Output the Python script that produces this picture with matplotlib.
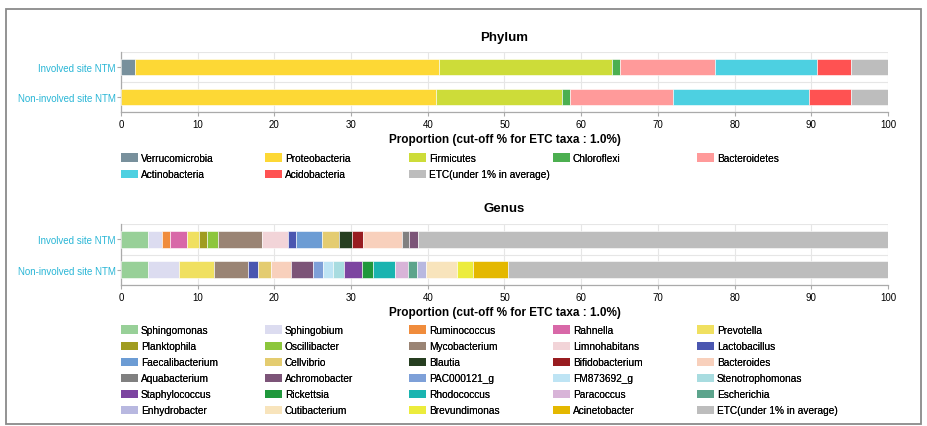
import numpy as np
import matplotlib
matplotlib.use("Agg")
import matplotlib.pyplot as plt
from matplotlib.patches import Patch, Rectangle

plt.rcParams['font.family'] = ['Liberation Sans', 'DejaVu Sans']

samples = ["Non-involved site NTM", "Involved site NTM"]

# Phylum level (% abundance), order = stacking order
phylum_names = ["Verrucomicrobia", "Proteobacteria", "Firmicutes", "Chloroflexi",
                "Bacteroidetes", "Actinobacteria", "Acidobacteria",
                "ETC(under 1% in average)"]
phylum_colors = ["#78909c", "#fdd835", "#cddc39", "#4caf50",
                 "#ff9a9a", "#4dd0e1", "#ff5252", "#bdbdbd"]
phylum_involved = [1.8, 39.7, 22.5, 1.1, 12.4, 13.3, 4.4, 4.8]
phylum_noninvolved = [0.0, 41.1, 16.4, 1.1, 13.4, 17.7, 5.5, 4.8]

# Genus level
genus_names = ["Sphingomonas", "Sphingobium", "Ruminococcus", "Rahnella", "Prevotella",
               "Planktophila", "Oscillibacter", "Mycobacterium", "Limnohabitans", "Lactobacillus",
               "Faecalibacterium", "Cellvibrio", "Blautia", "Bifidobacterium", "Bacteroides",
               "Aquabacterium", "Achromobacter", "PAC000121_g", "FM873692_g", "Stenotrophomonas",
               "Staphylococcus", "Rickettsia", "Rhodococcus", "Paracoccus", "Escherichia",
               "Enhydrobacter", "Cutibacterium", "Brevundimonas", "Acinetobacter",
               "ETC(under 1% in average)"]
genus_colors = ["#98d098", "#dcdcf0", "#f08c3c", "#d868a8", "#f0e060",
                "#a09c20", "#8cc63c", "#9a8474", "#f2d4d8", "#4a56b0",
                "#6c9cd4", "#e4cc70", "#263e20", "#981c20", "#f8d0bc",
                "#808080", "#7c5478", "#7ea0d8", "#bee4f4", "#a8dce0",
                "#7c44a0", "#20983c", "#1ab4b0", "#d8b4d8", "#5ca48c",
                "#b8b8e0", "#f8e4bc", "#ecec3c", "#e4b800", "#bdbdbd"]
genus_involved = [3.55, 1.85, 1.05, 2.2, 1.5,
                  1.0, 1.55, 5.65, 3.4, 1.1,
                  3.4, 2.2, 1.65, 1.4, 5.1,
                  0.9, 1.2, 0, 0, 0,
                  0, 0, 0, 0, 0,
                  0, 0, 0, 0, 61.3]
genus_noninvolved = [3.55, 4.0, 0, 0, 4.6,
                     0, 0, 4.45, 0, 1.2,
                     0, 1.7, 0, 0, 2.7,
                     0, 2.8, 1.4, 1.3, 1.4,
                     2.35, 1.35, 2.9, 1.75, 1.15,
                     1.15, 4.05, 2.05, 4.55, 49.6]

W, H = 928, 427
fig = plt.figure(figsize=(W / 100, H / 100), dpi=100)

# outer frame
fig.patches.append(Rectangle((6 / W, 2 / H), 915 / W, 415 / H, transform=fig.transFigure,
                             fill=False, edgecolor="#8a8a8a", linewidth=1.3))


def stacked(ax, names, colors, inv, noninv, title):
    data = np.array([noninv, inv])
    y = np.arange(len(samples))
    left = np.zeros(len(samples))
    for j in range(len(names)):
        w = data[:, j]
        m = w > 0
        ax.barh(y[m], w[m], left=left[m], height=0.55, color=colors[j],
                edgecolor="white", linewidth=0.4, zorder=3)
        left += w
    ax.set_xlim(0, 100)
    ax.set_ylim(-0.5, 1.5)
    ax.set_xticks(np.arange(0, 101, 10))
    ax.set_yticks(y)
    ax.set_yticklabels(samples, color="#29b6d6", fontsize=7)
    ax.set_yticks([-0.5, 0.5, 1.5], minor=True)
    ax.tick_params(axis="y", which="minor", length=0)
    ax.tick_params(axis="x", labelsize=7, length=3, color="#aaaaaa", pad=2)
    ax.tick_params(axis="y", which="major", length=3, color="#aaaaaa", pad=1)
    ax.grid(axis="x", color="#e6e6e6", linewidth=0.8, zorder=0)
    ax.grid(axis="y", which="minor", color="#e6e6e6", linewidth=0.8, zorder=0)
    for s in ["top", "right"]:
        ax.spines[s].set_visible(False)
    for s in ["left", "bottom"]:
        ax.spines[s].set_color("#aaaaaa")
        ax.spines[s].set_linewidth(0.9)
    ax.set_xlabel("Proportion (cut-off % for ETC taxa : 1.0%)", fontsize=8.5,
                  fontweight="bold", labelpad=3)
    ax.set_title(title, fontsize=9.5, fontweight="bold", pad=9)


def legend_cols(names, colors, top_px):
    ncol = 5
    for c in range(ncol):
        handles = [Patch(facecolor=colors[i], edgecolor="none", label=names[i])
                   for i in range(c, len(names), ncol)]
        leg = fig.legend(handles=handles, loc="upper left",
                         bbox_to_anchor=((121 + 144 * c) / W, 1 - top_px / H),
                         frameon=False, fontsize=7.3, handlelength=1.65,
                         handleheight=0.85, handletextpad=0.3, labelspacing=0.6,
                         borderaxespad=0, borderpad=0)
        fig.add_artist(leg)


ax1 = fig.add_axes([121 / W, 1 - 113 / H, 767 / W, 60 / H])
stacked(ax1, phylum_names, phylum_colors, phylum_involved, phylum_noninvolved, "Phylum")
legend_cols(phylum_names, phylum_colors, 154)

ax2 = fig.add_axes([121 / W, 1 - 286 / H, 767 / W, 61 / H])
stacked(ax2, genus_names, genus_colors, genus_involved, genus_noninvolved, "Genus")
legend_cols(genus_names, genus_colors, 326)

fig.savefig("out.png", dpi=100)
